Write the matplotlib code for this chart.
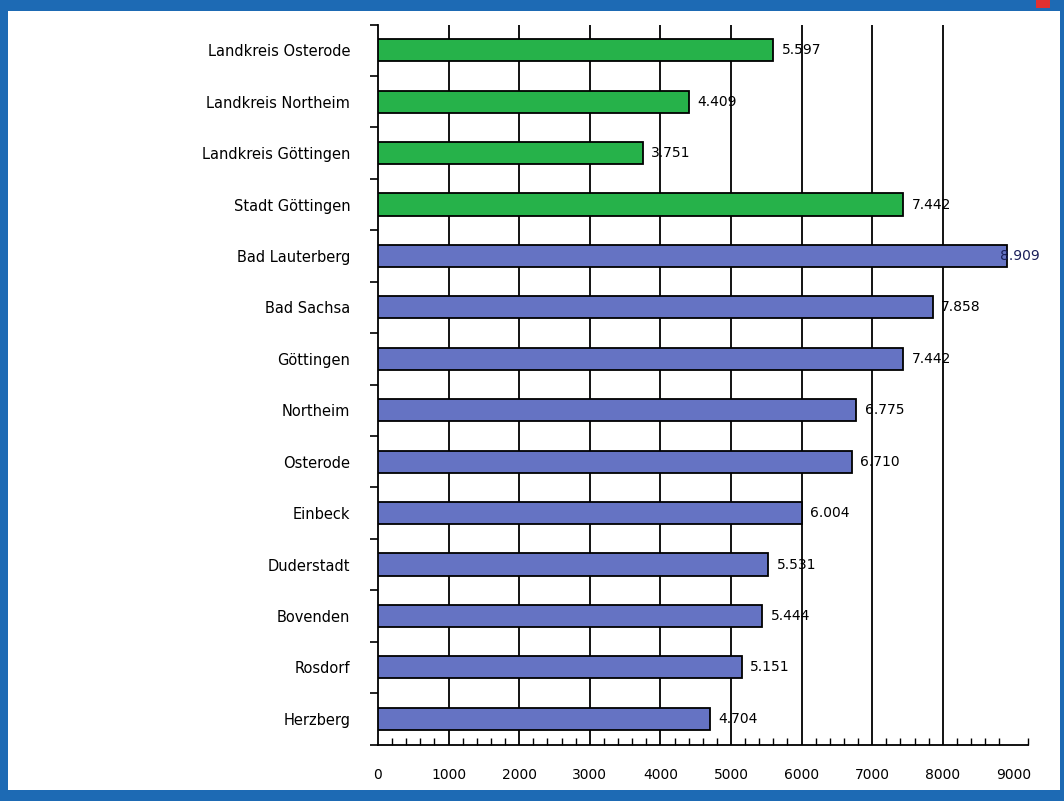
import numpy as np
import matplotlib
matplotlib.use("Agg")
import matplotlib.pyplot as plt
from matplotlib.patches import Rectangle

### data
categories = ["Landkreis Osterode", "Landkreis Northeim", "Landkreis Göttingen",
              "Stadt Göttingen", "Bad Lauterberg", "Bad Sachsa", "Göttingen",
              "Northeim", "Osterode", "Einbeck", "Duderstadt", "Bovenden",
              "Rosdorf", "Herzberg"]
values = [5597, 4409, 3751, 7442, 8909, 7858, 7442, 6775, 6710, 6004,
          5531, 5444, 5151, 4704]
groups = ["kreis"] * 4 + ["gemeinde"] * 10
x_ticks = list(range(0, 10000, 1000))

### style
colors = {"kreis": "#26b24a", "gemeinde": "#6573c3"}
frame_blue = "#1d6ab4"
font = "DejaVu Sans"


def german_number(v):
    ### 5597 -> 5.597
    return f"{v:,}".replace(",", ".")


fig = plt.figure(figsize=(10.64, 8.01), dpi=100, facecolor=frame_blue)

### white panel of the slide, kept behind the axes
fig.patches.append(Rectangle((8 / 1064, 11 / 801), 1052 / 1064, 779 / 801,
                             transform=fig.transFigure, facecolor="white",
                             edgecolor="none", zorder=-10))
fig.patches.append(Rectangle((1036 / 1064, 793 / 801), 14 / 1064, 8 / 801,
                             transform=fig.transFigure, facecolor="#e03030",
                             edgecolor="none", zorder=-10))

ax = fig.add_axes([378 / 1064, 1 - 744.5 / 801, 649.5 / 1064, 720 / 801])
ax.set_facecolor("none")
ax.set_zorder(5)

y = np.arange(len(categories))
bar_colors = [colors[g] for g in groups]
ax.barh(y, values, height=0.43, color=bar_colors, edgecolor="black",
        linewidth=1.3, zorder=3)

ax.set_xlim(0, 9200)
ax.set_ylim(len(categories) - 0.5, -0.5)

### vertical grid lines (not at 0 and 9000)
ax.vlines(x_ticks[1:-1], -0.5, len(categories) - 0.5, colors="black",
          linewidth=1.3, zorder=2)

### value labels, the one that would leave the chart is pushed back left
for yi, v in zip(y, values):
    if v + 120 + 800 > 9200:
        ax.text(9380, yi, german_number(v), ha="right", va="center",
                fontsize=10, family=font, color="#1a1f5a", zorder=4,
                clip_on=False)
    else:
        ax.text(v + 120, yi, german_number(v), ha="left", va="center",
                fontsize=10, family=font, color="black", zorder=4)

### y axis: ticks on category borders, labels in the middle
ax.set_yticks(np.arange(len(categories) + 1) - 0.5)
ax.set_yticklabels([])
ax.set_yticks(y, minor=True)
ax.set_yticklabels(categories, minor=True, fontsize=10.5, family=font)
ax.tick_params(axis="y", which="major", direction="out", length=6, width=1.2)
ax.tick_params(axis="y", which="minor", length=0, pad=20)

### x axis: labels only on majors, small inward ticks every 200
ax.set_xticks(x_ticks)
ax.set_xticklabels([str(t) for t in x_ticks], fontsize=10, family=font)
ax.set_xticks(np.arange(0, 9201, 200), minor=True)
ax.tick_params(axis="x", which="major", direction="in", length=0, pad=17)
ax.tick_params(axis="x", which="minor", direction="in", length=5, width=1.0)

for side in ["top", "right"]:
    ax.spines[side].set_visible(False)
for side in ["left", "bottom"]:
    ax.spines[side].set_linewidth(1.3)
    ax.spines[side].set_color("black")

fig.savefig("out.png", dpi=100, facecolor=fig.get_facecolor())
